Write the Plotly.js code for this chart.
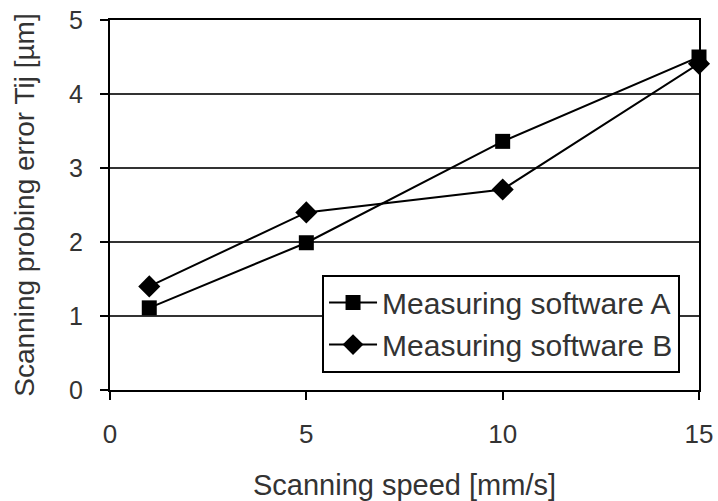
<!DOCTYPE html>
<html>
<head>
<meta charset="utf-8">
<script src="https://cdn.plot.ly/plotly-3.0.1.min.js"></script>
<style>html,body{margin:0;padding:0;background:#fff;}#chart{width:718px;height:501px;}</style>
</head>
<body>
<div id="chart"></div>
<script>
const speeds = [1, 5, 10, 15];
const softwareA = [1.11, 1.99, 3.36, 4.50];
const softwareB = [1.40, 2.40, 2.71, 4.41];
const nameA = "Measuring software A";
const nameB = "Measuring software B";
const xTicks = [0, 5, 10, 15];
const yTicks = [0, 1, 2, 3, 4, 5];

const traces = [
  {x: speeds, y: softwareA, name: nameA, mode: "lines+markers", type: "scatter", cliponaxis: false,
   line: {color: "#000", width: 2}, marker: {symbol: "square", size: 15, color: "#000"}},
  {x: speeds, y: softwareB, name: nameB, mode: "lines+markers", type: "scatter", cliponaxis: false,
   line: {color: "#000", width: 2}, marker: {symbol: "diamond", size: 17, color: "#000"}}
];

const layout = {
  width: 718, height: 501,
  margin: {l: 110, r: 19, t: 20, b: 111},
  paper_bgcolor: "#fff", plot_bgcolor: "#fff",
  font: {family: "Liberation Sans, Arial, sans-serif", color: "#333"},
  showlegend: true,
  legend: {x: 0.36, y: 0.312, xanchor: "left", yanchor: "top",
    bgcolor: "#fff", bordercolor: "#000", borderwidth: 2, itemwidth: 48,
    font: {size: 30, color: "#333"}, tracegroupgap: 4},
  xaxis: {range: [0, 15], tickvals: xTicks, ticks: "outside", ticklen: 8, tickwidth: 2, tickcolor: "#000",
    showline: true, linecolor: "#000", linewidth: 2, mirror: true, showgrid: false, zeroline: false,
    ticklabelstandoff: 12,
    tickfont: {size: 26, color: "#333"},
    title: {text: "Scanning speed [mm/s]", font: {size: 29, color: "#333"}, standoff: 26}},
  yaxis: {range: [0, 5], tickvals: yTicks, ticks: "outside", ticklen: 8, tickwidth: 2, tickcolor: "#000",
    showline: true, linecolor: "#000", linewidth: 2, mirror: true,
    showgrid: true, gridcolor: "#333", gridwidth: 2, zeroline: false,
    ticklabelstandoff: 12,
    tickfont: {size: 25, color: "#333"},
    title: {text: "Scanning probing error Tij [µm]", font: {size: 28, color: "#333"}, standoff: 26}}
};

Plotly.newPlot("chart", traces, layout, {displayModeBar: false, staticPlot: true});
</script>
</body>
</html>
